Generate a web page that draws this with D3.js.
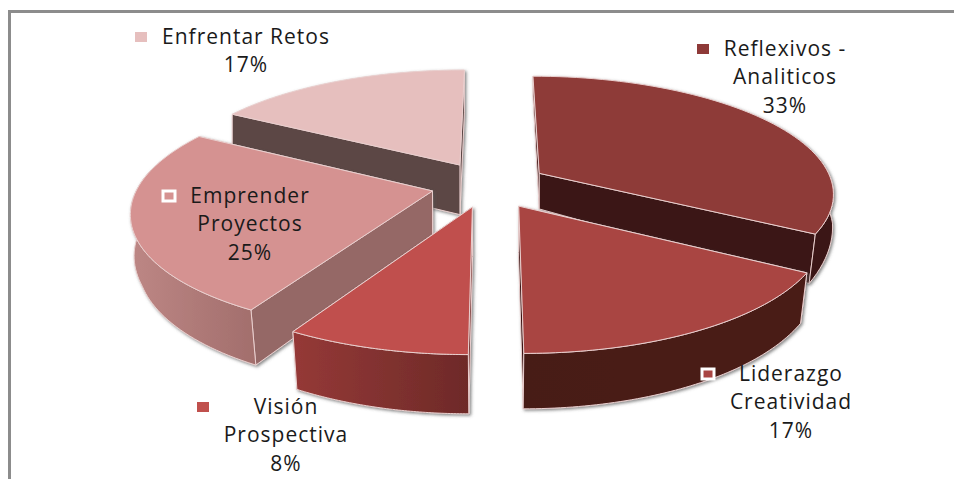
<!DOCTYPE html>
<html>
<head>
<meta charset="utf-8">
<script src="https://cdn.jsdelivr.net/npm/d3@7"></script>
<style>
  html, body { margin: 0; background: #fff; overflow: hidden; }
  text { font-family: "Open Sans", sans-serif; font-size: 21px; letter-spacing: 1px; fill: #1a1a1a; text-anchor: middle; }
</style>
</head>
<body>
<div id="chart"></div>
<script>
const categories = ["Reflexivos - Analiticos", "Liderazgo Creatividad", "Visión Prospectiva", "Emprender Proyectos", "Enfrentar Retos"];
const percents = [33.3, 16.7, 8.3, 25, 16.7];
const labelLines = [["Reflexivos -", "Analiticos"], ["Liderazgo", "Creatividad"], ["Visión", "Prospectiva"], ["Emprender", "Proyectos"], ["Enfrentar Retos"]];

const WIDTH = 954;
const HEIGHT = 479;

// perspective of the pie plane
const VANISHX = 493;
const VANISHY = 185;
const RADIUS = 294;
const TILT = 0.395;
const PERSP = 0.16;

// how far each slice is pulled out, in plane units
const sliceOffset = [[47, -30], [25, 52], [-20, 54], [-60, 15], [-34, -52]];
const thickness = [38, 45, 48, 47, 51];
const wallTaper = [4, 1, 1, 1, 1];

const topColors = ["#8e3a38", "#a94543", "#c0504d", "#d59291", "#e6bfbe"];
const wallColors = [["#3a1413", "#3a1413"], ["#471a18", "#4a1b18"], ["#953937", "#6e2a28"], ["#bd8785", "#a26e6c"], ["#8f6a69", "#5c4645"]];
const cutColors = ["#3a1413", "#3a1413", "#6e2a28", "#956766", "#5c4645"];
const drawOrder = [4, 0, 3, 1, 2];

const labelX = [785, 791, 286, 250, 246];
const labelY = [56, 381, 414, 203, 44];
const keyPos = [[703, 49], [708, 374], [203, 407], [169, 196], [141, 37]];
const keyOutlined = [false, true, false, true, false];

const svg = d3.select("#chart").append("svg").attr("width", WIDTH).attr("height", HEIGHT);
const defs = svg.append("defs");

const blur = defs.append("filter").attr("id", "soft").attr("x", "-10%").attr("y", "-10%").attr("width", "125%").attr("height", "125%");
blur.append("feDropShadow").attr("dx", 1.5).attr("dy", 1.5).attr("stdDeviation", 1.6).attr("flood-color", "#555").attr("flood-opacity", 0.7);

// frame only shows on the top and left, the rest is cropped
svg.append("path").attr("d", `M9.5,${HEIGHT}V11.5H${WIDTH}`)
  .attr("fill", "none").attr("stroke", "#8c8c8c").attr("stroke-width", 3);

const arcs = d3.pie().sort(null).value((d) => d)(percents);
const lineGen = d3.line();
const formatPct = (v) => `${Math.round(v)}%`;

// the underside pulls in toward the middle, more on the near side
const bottomShrink = d3.scaleLinear().domain([1, 1.07]).range([0, 0.02]).clamp(true);

function project(px, pu) {
  const s = 1 / (1 - (PERSP * pu) / RADIUS);
  return { x: VANISHX + px * s, y: VANISHY + TILT * pu * s, s: s };
}

arcs.forEach((a, i) => {
  const g = defs.append("linearGradient").attr("id", `wall-${i}`);
  g.append("stop").attr("offset", "0%").attr("stop-color", wallColors[i][0]);
  g.append("stop").attr("offset", "100%").attr("stop-color", wallColors[i][1]);
});

function drawSlice(i) {
  const a = arcs[i];
  const [ox, ou] = sliceOffset[i];
  const drop = (pt) => [
    pt.x - (pt.x - VANISHX) * bottomShrink(pt.s),
    pt.y + thickness[i] * Math.pow(pt.s, wallTaper[i]),
  ];

  const apex = project(ox, ou);
  const rimAngles = d3.range(0, 61).map((k) => a.startAngle + ((a.endAngle - a.startAngle) * k) / 60);
  const rim = rimAngles.map((t) => project(ox + RADIUS * Math.sin(t), ou - RADIUS * Math.cos(t)));
  const first = rim[0];
  const last = rim[rim.length - 1];

  const group = svg.append("g").attr("filter", "url(#soft)");

  function face(points, fill) {
    group.append("path").attr("d", lineGen(points) + "Z").attr("fill", fill)
      .attr("stroke", "#e9cfce").attr("stroke-width", 1).attr("stroke-linejoin", "round");
  }

  // far cut face first so the near one covers it
  const cuts = first.y < last.y ? [first, last] : [last, first];
  cuts.forEach((p) => {
    face([[apex.x, apex.y], [p.x, p.y], drop(p), drop(apex)], cutColors[i]);
  });

  // outer wall, only the part that faces the viewer
  const nearRim = rim.filter((p, k) => Math.cos(rimAngles[k]) < 0.2);
  if (nearRim.length > 1) {
    face(nearRim.map((p) => [p.x, p.y]).concat(nearRim.slice().reverse().map(drop)), `url(#wall-${i})`);
  }
  face([[apex.x, apex.y]].concat(rim.map((p) => [p.x, p.y])), topColors[i]);
}

drawOrder.forEach(drawSlice);

// labels sit on top of the slices
categories.forEach((name, i) => {
  const lines = labelLines[i].concat(formatPct(percents[i]));
  const t = svg.append("text").attr("aria-label", name);
  lines.forEach((line, k) => {
    t.append("tspan").attr("x", labelX[i]).attr("y", labelY[i] + k * 28.3).text(line);
  });
  const [kx, ky] = keyPos[i];
  svg.append("rect").attr("x", kx - 6).attr("y", ky - 5).attr("width", 12).attr("height", 10)
    .attr("fill", topColors[i])
    .attr("stroke", keyOutlined[i] ? "#fff" : "none").attr("stroke-width", keyOutlined[i] ? 3 : 0);
});
</script>
</body>
</html>
